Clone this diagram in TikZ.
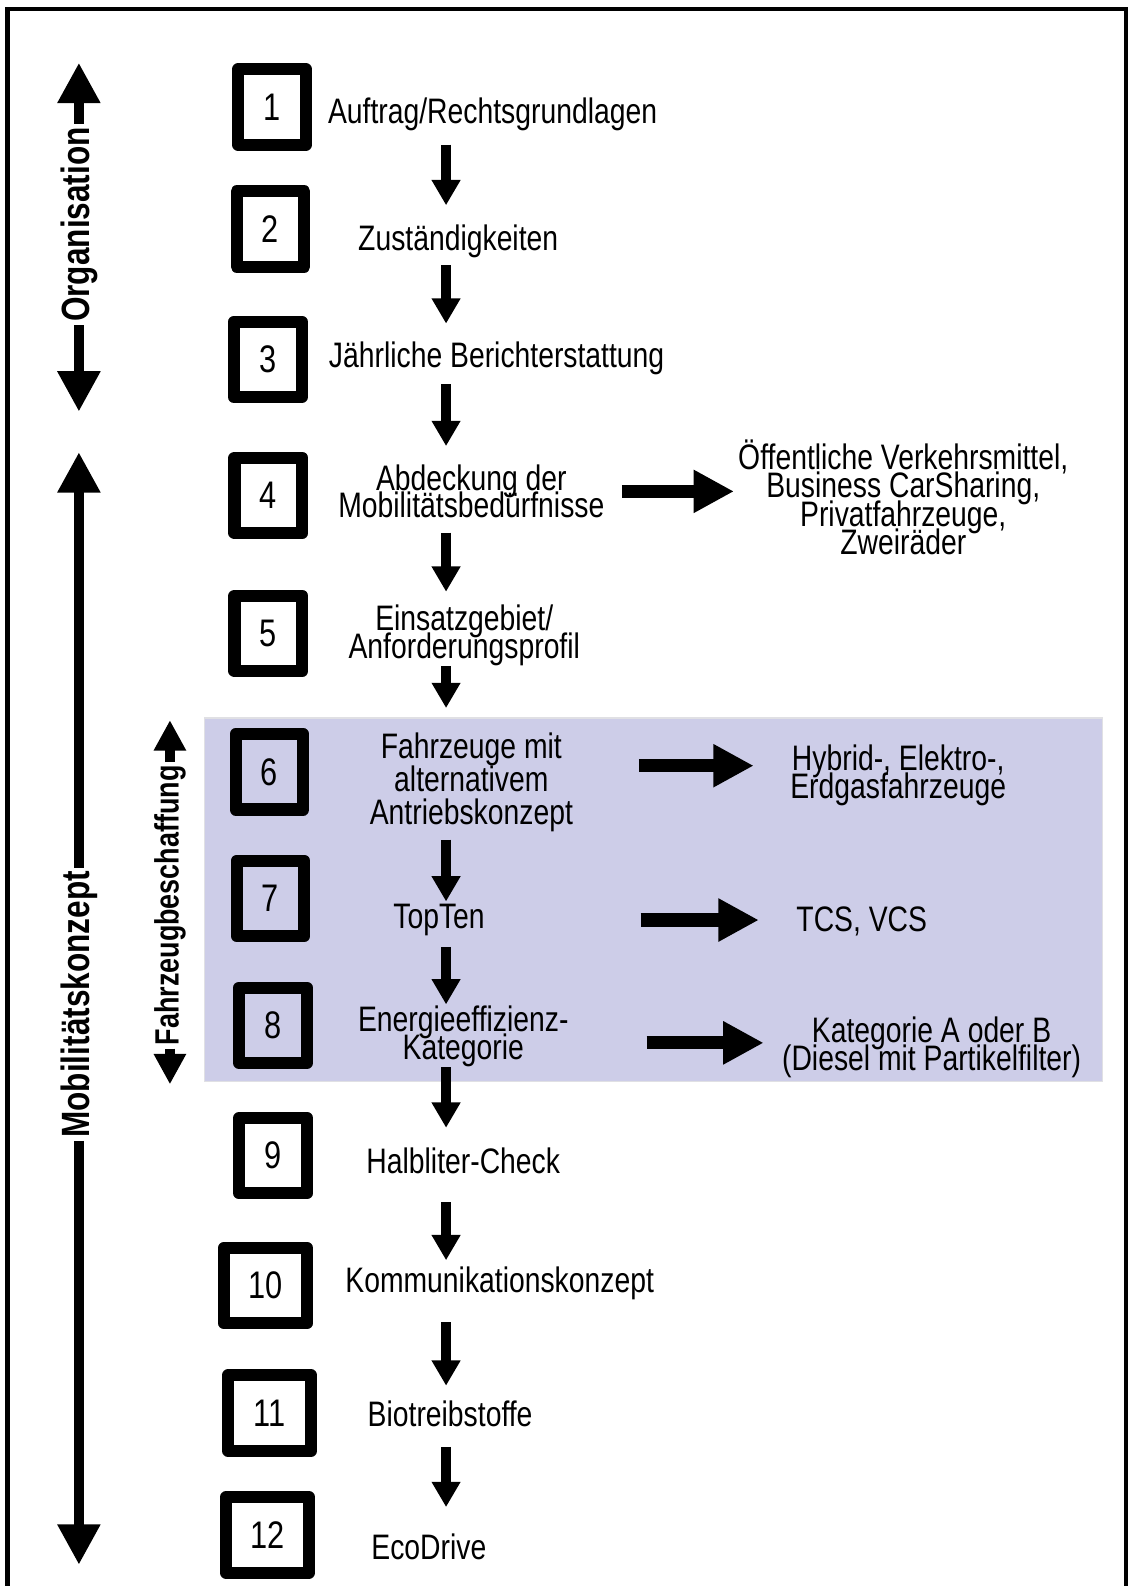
\documentclass[tikz,border=0pt]{standalone}
\usepackage{fontspec}
\setmainfont{Liberation Sans}[FakeStretch=0.80]
\usetikzlibrary{arrows.meta}
\definecolor{lav}{RGB}{205,205,232}
\definecolor{lavline}{RGB}{224,224,228}
\newcommand\txtf{\fontsize{35}{27.5}\selectfont\lineskiplimit=-100pt\lineskip=0pt}
\newcommand\sidef{\fontsize{35}{28}\selectfont\lineskiplimit=-100pt\lineskip=0pt}
\newcommand\txtfsix{\fontsize{35}{33}\selectfont\lineskiplimit=-100pt\lineskip=0pt}
\newcommand\numf{\fontsize{38}{38}\selectfont}
\newcommand\lblbig{\fontsize{39}{39}\selectfont\bfseries}
\newcommand\lblsm{\fontsize{33.3}{33.3}\selectfont\bfseries}
\begin{document}
\begin{tikzpicture}[x=1pt,y=-1pt,
  numbox/.style={draw, line width=12pt, line join=round, minimum width=67pt, minimum height=74.5pt, inner sep=0pt, font=\numf},
  wide/.style={minimum width=82pt},
  txt/.style={align=center, inner sep=0pt, font=\txtf},
  side/.style={align=center, inner sep=0pt, font=\sidef},
  vd/.style 2 args={line width=10pt, -{Triangle[width=27pt,length=25pt]}, shorten <=#1pt, shorten >=#2pt},
  hr/.style 2 args={line width=13pt, -{Triangle[width=40pt,length=40pt]}, shorten <=#1pt, shorten >=#2pt},
  bighead/.style={line width=10pt, -{Triangle[width=40pt,length=40pt]}},
  smallhead/.style={line width=10pt, -{Triangle[width=30pt,length=30pt]}},
  lbl/.style={rotate=90, inner sep=3pt},
]
\useasboundingbox[fill=white] (0,0) rectangle (1115,1568);
% frame
\draw[line width=4.5pt] (7.4,1590) -- (7.4,8.9) -- (1113,8.9) -- (1113,1590);
% shaded group
\filldraw[fill=lav, draw=lavline, line width=1.5pt] (202,710) rectangle (1090,1069);

% number boxes
\node[numbox] (n1) at (268.9,105.8) {1};
\node[numbox] (n2) at (267.4,226.4) {2};
\node[numbox] (n3) at (264.9,355.3) {3};
\node[numbox] (n4) at (265.4,489.8) {4};
\node[numbox] (n5) at (265.4,626.2) {5};
\node[numbox] (n6) at (266.4,763.1) {6};
\node[numbox] (n7) at (267.4,888.1) {7};
\node[numbox] (n8) at (269.9,1013.6) {8};
\node[numbox] (n9) at (270,1142.5) {9};
\node[numbox,wide] (n10) at (262.5,1271) {10};
\node[numbox,wide] (n11) at (266.5,1397) {11};
\node[numbox,wide] (n12) at (264.5,1517.5) {12};

% step texts
\node[txt, anchor=base] (t1) at (487,122) {Auftrag/Rechtsgrundlagen};
\node[txt, anchor=base] (t2) at (453,248) {Zuständigkeiten};
\node[txt, anchor=base] (t3) at (491,363) {Jährliche Berichterstattung};
\node[txt, anchor=north] (t4) at (466,459) {Abdeckung der\\Mobilitätsbedürfnisse};
\node[txt, anchor=north] (t5) at (459,598) {Einsatzgebiet/\\Anforderungsprofil};
\node[txt, anchor=north, font=\txtfsix] (t6) at (466,724) {Fahrzeuge mit\\alternativem\\Antriebskonzept};
\node[txt, anchor=base] (t7) at (434,918) {TopTen};
\node[txt, anchor=north, font=\sidef] (t8) at (458,994) {Energieeffizienz-\\Kategorie};
\node[txt, anchor=base] (t9) at (458,1160) {Halbliter-Check};
\node[txt, anchor=base] (t10) at (494,1278) {Kommunikationskonzept};
\node[txt, anchor=base] (t11) at (445,1410) {Biotreibstoffe};
\node[txt, anchor=base] (t12) at (424,1542) {EcoDrive};

% side texts
\node[side, anchor=south] (s4) at (893,548.6) {Öffentliche Verkehrsmittel,\\Business CarSharing,\\Privatfahrzeuge,\\Zweiräder};
\node[side, anchor=north] (s6) at (888,736) {Hybrid-, Elektro-,\\Erdgasfahrzeuge};
\node[side, anchor=base] (s7) at (852,921) {TCS, VCS};
\node[side, anchor=north] (s8) at (921,1005) {Kategorie A oder B\\(Diesel mit Partikelfilter)};

% vertical flow arrows
\coordinate (ax) at (441,0);
\draw[vd={13.6}{19.5}] (t1.south -| ax) -- (t2.north -| ax);
\draw[vd={6.6}{17.5}] (t2.south -| ax) -- (t3.north -| ax);
\draw[vd={9.6}{18}] (t3.south -| ax) -- (t4.north -| ax);
\draw[vd={14}{13}] (t4.south -| ax) -- (t5.north -| ax);
\draw[vd={0}{24}] (t5.south -| ax) -- (t6.north -| ax);
\draw[vd={7.1}{2.5}] (t6.south -| ax) -- (t7.north -| ax);
\draw[vd={10.6}{1}] (t7.south -| ax) -- (t8.north -| ax);
\draw[vd={0}{19.5}] (t8.south -| ax) -- (t9.north -| ax);
\draw[vd={28}{6.5}] (t9.south -| ax) -- (t10.north -| ax);
\draw[vd={21.6}{14.5}] (t10.south -| ax) -- (t11.north -| ax);
\draw[vd={20}{26.5}] (t11.south -| ax) -- (t12.north -| ax);

% horizontal arrows
\draw[hr={17}{4}] (t4.east) -- (t4.east -| s4.west);
\draw[hr={65}{36}] ([yshift=16.5pt]t6.east) -- ([yshift=16.5pt]t6.east -| s6.west);
\draw[hr={154}{37}] (t7.east) -- (t7.east -| s7.west);
\draw[hr={77}{18}] ([yshift=-6.5pt]t8.east) -- ([yshift=-6.5pt]t8.east -| s8.west);

% left labels
\node[lbl, font=\lblbig] (org) at (78,222) {Organisation};
\coordinate (orgT) at (78,62);
\coordinate (orgB) at (78,407);
\draw[bighead] (org.east) -- (orgT);
\draw[bighead] (org.west) -- (orgB);

\node[lbl, font=\lblbig] (mob) at (78,993) {Mobilitätskonzept};
\coordinate (mobT) at (78,447);
\coordinate (mobB) at (78,1547);
\draw[bighead] (mob.east) -- (mobT);
\draw[bighead] (mob.west) -- (mobB);

\node[lbl, font=\lblsm] (fz) at (168,895) {Fahrzeugbeschaffung};
\coordinate (fzT) at (168,712);
\coordinate (fzB) at (168,1072);
\draw[smallhead] (fz.east) -- (fzT);
\draw[smallhead] (fz.west) -- (fzB);
\end{tikzpicture}
\end{document}
